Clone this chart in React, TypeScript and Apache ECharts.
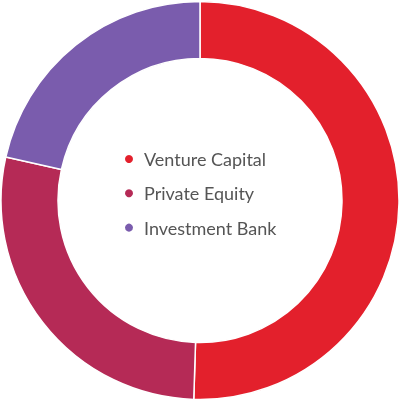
import React, { useEffect, useRef } from "react";
import * as echarts from "echarts";

const categories = ["Venture Capital", "Private Equity", "Investment Bank"];
const values = [50.5, 28, 21.5];
const colors = ["#e3202c", "#b52a56", "#7a5cad"];

export default function App() {
  const ref = useRef<HTMLDivElement>(null);
  useEffect(() => {
    const chart = echarts.init(ref.current!, undefined, { renderer: "svg" });
    chart.setOption({
      animation: false,
      color: colors,
      legend: {
        orient: "vertical",
        left: 118,
        top: 145,
        icon: "circle",
        itemWidth: 20,
        itemHeight: 10,
        itemGap: 16.3,
        textStyle: { fontFamily: "Lato", fontSize: 18, lineHeight: 18, color: "#555" },
        data: categories,
      },
      series: [
        {
          type: "pie",
          center: [200, 200.5],
          radius: [142, 199],
          startAngle: 90,
          clockwise: true,
          label: { show: false },
          labelLine: { show: false },
          emphasis: { disabled: true },
          itemStyle: { borderColor: "#fff", borderWidth: 1.5 },
          data: categories.map((name, i) => ({ name, value: values[i] })),
        },
      ],
    });
    return () => chart.dispose();
  }, []);
  return (
    <div
      ref={ref}
      style={{ position: "fixed", left: 0, top: 0, width: 400, height: 401 }}
    />
  );
}
